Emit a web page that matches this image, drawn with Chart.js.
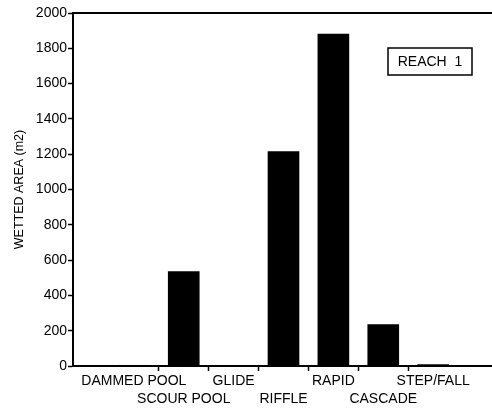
<!DOCTYPE html>
<html>
<head>
<meta charset="utf-8">
<script src="https://cdn.jsdelivr.net/npm/chart.js@4.4.0/dist/chart.umd.min.js"></script>
<style>
  html, body { margin: 0; padding: 0; background: #fff; }
  #wrap { width: 492px; height: 411px; }
</style>
</head>
<body>
<div id="wrap"><canvas id="grafik" width="492" height="411"></canvas></div>
<script>
// habitat types, along x
var tipovi = ['DAMMED POOL', 'SCOUR POOL', 'GLIDE', 'RIFFLE', 'RAPID', 'CASCADE', 'STEP/FALL'];
// wetted area (m2)
var povrsina = [4, 535, 0, 1215, 1880, 235, 8];
var yTicks = [0, 200, 400, 600, 800, 1000, 1200, 1400, 1600, 1800, 2000];
var oznaka = 'REACH  1';

var tocke = tipovi.map(function (t, i) { return { x: i + 1, y: povrsina[i] }; });

// box with the reach name, top right
var reachBox = {
    id: 'reachBox',
    afterDraw: function (chart) {
        var c = chart.ctx, a = chart.chartArea;
        var x = a.right - 104, y = a.top + 35, w = 84, h = 27;
        c.save();
        c.fillStyle = '#fff';
        c.fillRect(x, y, w, h);
        c.strokeStyle = '#000';
        c.lineWidth = 1.5;
        c.strokeRect(x, y, w, h);
        c.fillStyle = '#000';
        c.font = '14px "Liberation Sans", Arial, sans-serif';
        c.textAlign = 'center';
        c.textBaseline = 'middle';
        c.fillText(oznaka, x + w / 2, y + h / 2 + 1);
        c.restore();
    }
};

var obitelj = '"Liberation Sans", Arial, sans-serif';

var config = {
    type: 'bar',
    data: {
        datasets: [{
            data: tocke,
            backgroundColor: '#000',
            borderWidth: 0,
            barThickness: 31
        }]
    },
    options: {
        responsive: false,
        animation: false,
        layout: { padding: 0 },
        plugins: { legend: { display: false }, tooltip: { enabled: false } },
        scales: {
            x: {
                type: 'linear',
                min: -0.22,
                max: 8.18,
                offset: false,
                afterBuildTicks: function (scale) {
                    var t = [];
                    for (var i = 1; i <= tipovi.length; i++) {
                        t.push({ value: i });
                        if (i < tipovi.length) t.push({ value: i + 0.5 });
                    }
                    scale.ticks = t;
                },
                afterFit: function (scale) { scale.height = 45; },
                grid: {
                    offset: false,
                    drawOnChartArea: false,
                    tickLength: 5,
                    tickWidth: 1.5,
                    color: function (ctx) {
                        return (ctx.tick && ctx.tick.value % 1 !== 0) ? '#000' : 'rgba(0,0,0,0)';
                    }
                },
                border: { color: '#000', width: 2 },
                ticks: {
                    autoSkip: false,
                    maxRotation: 0,
                    minRotation: 0,
                    padding: 1,
                    color: '#000',
                    font: { family: obitelj, size: 14, lineHeight: '18px' },
                    callback: function (v) {
                        if (v % 1 !== 0) return '';
                        var ime = tipovi[v - 1];
                        return (v % 2 === 1) ? [ime, ''] : ['', ime];
                    }
                }
            },
            x2: {
                type: 'linear',
                position: 'top',
                afterFit: function (scale) { scale.height = 13; },
                grid: { drawOnChartArea: false, drawTicks: false },
                border: { color: '#000', width: 2 },
                ticks: { display: false }
            },
            y: {
                min: 0,
                max: 2000,
                afterBuildTicks: function (scale) {
                    scale.ticks = yTicks.map(function (v) { return { value: v }; });
                },
                afterFit: function (scale) { scale.width = 73; },
                grid: { drawOnChartArea: false, tickLength: 5, tickWidth: 1.5, color: '#000' },
                border: { color: '#000', width: 2 },
                ticks: {
                    padding: 1,
                    color: '#000',
                    font: { family: obitelj, size: 14 },
                    callback: function (v) { return String(v); }
                },
                title: {
                    display: true,
                    text: 'WETTED AREA (m2)',
                    color: '#000',
                    font: { family: obitelj, size: 12.5 },
                    padding: { top: 12, bottom: 0 }
                }
            }
        }
    },
    plugins: [reachBox]
};

var chart = new Chart(document.getElementById('grafik'), config);
</script>
</body>
</html>
